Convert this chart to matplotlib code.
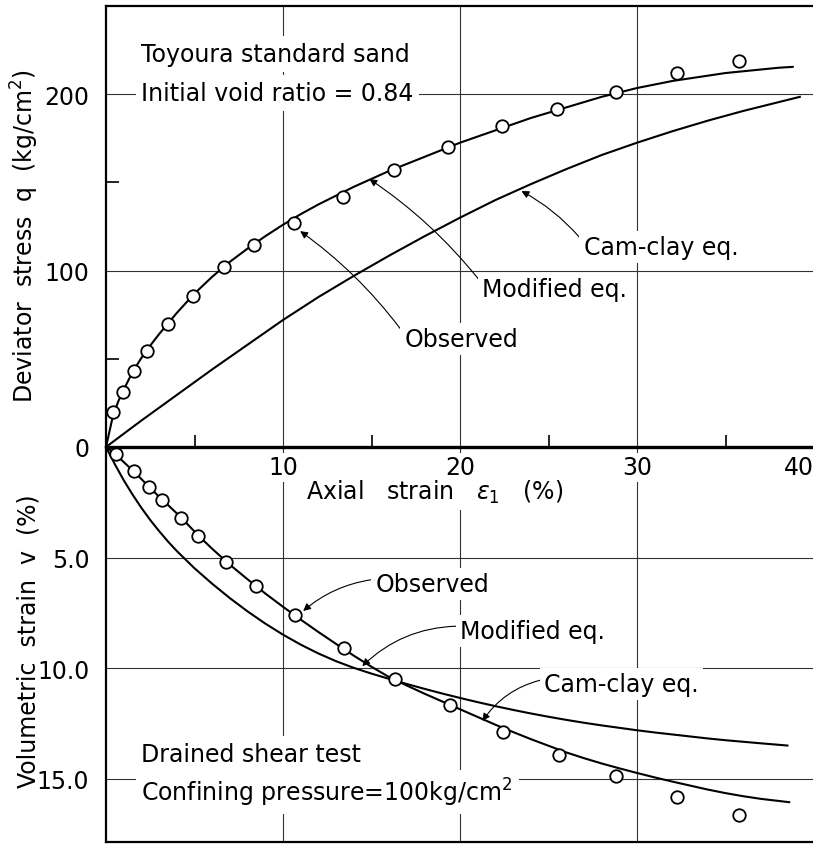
import matplotlib
matplotlib.use('Agg')
from matplotlib import pyplot as plt

plt.rcParams['font.family'] = ['DejaVu Sans']
plt.rcParams['mathtext.fontset'] = 'dejavusans'

# observed points (upper: deviator stress, lower: volumetric strain)
obs_q_eps = [0.40, 0.95, 1.57, 2.30, 3.53, 4.90, 6.66, 8.36, 10.62, 13.40, 16.28, 19.35, 22.37, 25.50, 28.82, 32.25, 35.76]
obs_q = [20.0, 31.4, 43.3, 54.3, 69.8, 85.8, 101.9, 114.6, 127.0, 142.0, 157.1, 170.0, 181.9, 191.7, 201.2, 212.1, 218.8]
obs_v_eps = [0.57, 1.60, 2.45, 3.19, 4.24, 5.22, 6.79, 8.48, 10.69, 13.42, 16.33, 19.44, 22.43, 25.60, 28.82, 32.25, 35.76]
obs_v = [0.32, 1.10, 1.82, 2.39, 3.21, 4.01, 5.18, 6.30, 7.58, 9.10, 10.48, 11.64, 12.89, 13.90, 14.88, 15.83, 16.61]

# modified eq., q
mod_q_eps = [0, 0.2, 0.4, 0.7, 1, 1.5, 2, 2.5, 3, 4, 5, 6, 7, 8, 9, 10, 11, 12, 13, 14, 15, 16, 17, 18, 19,
             20, 21, 22, 23, 24, 25, 26, 27, 28, 29, 30, 31, 32, 33, 34, 35, 36, 37, 38, 38.8]
mod_q = [0, 9, 18, 26, 32.5, 42.5, 50.5, 57.5, 64, 76, 87, 96.5, 105, 112.5, 119.5, 126, 132, 137.5, 142.5,
         147.5, 152, 156.5, 160.5, 164.5, 168.5, 172.5, 176, 179.5, 183, 186.5, 189.5, 192.5, 195.5, 198.5,
         201, 203.5, 205.5, 207.5, 209, 210.5, 212, 213, 214, 215, 215.5]

# cam-clay eq., q
cam_q_eps = [0, 2, 4, 6, 8, 10, 12, 14, 16, 18, 20, 22, 24, 26, 28, 30, 32, 34, 36, 38, 39.2]
cam_q = [0, 15, 29.5, 44, 58, 72, 85, 97, 108.5, 119.5, 130, 140, 149, 157.5, 165.5, 172.5, 179, 185, 190.5,
         195.5, 198.5]

# modified eq., v
mod_v_eps = [0, 0.5, 1, 1.5, 2, 2.5, 3, 3.5, 4, 4.5, 5, 5.5, 6, 7, 8, 9, 10, 11, 12, 13, 14, 15, 16, 17, 18,
             19, 20, 21, 22, 23, 24, 25, 26, 27, 28, 29, 30, 31, 32, 33, 34, 35, 36, 37, 38.6]
mod_v = [0, 0.3, 0.68, 1.05, 1.45, 1.85, 2.25, 2.62, 3.0, 3.4, 3.82, 4.22, 4.6, 5.32, 5.98, 6.62, 7.22, 7.8,
         8.36, 8.9, 9.43, 9.93, 10.4, 10.78, 11.15, 11.5, 11.85, 12.2, 12.55, 12.88, 13.2, 13.5, 13.8, 14.06,
         14.3, 14.52, 14.73, 14.93, 15.12, 15.3, 15.48, 15.64, 15.78, 15.9, 16.05]

# cam-clay eq., v
cam_v_eps = [0, 0.5, 1, 1.5, 2, 2.5, 3, 3.5, 4, 5, 6, 7, 8, 9, 10, 11, 12, 13, 14, 15, 16, 17, 18, 19, 20,
             21, 22, 23, 24, 25, 26, 27, 28, 29, 30, 31, 32, 33, 34, 35, 36, 37, 38.5]
cam_v = [0, 0.78, 1.5, 2.15, 2.75, 3.3, 3.8, 4.27, 4.7, 5.48, 6.18, 6.83, 7.43, 7.98, 8.48, 8.93, 9.33, 9.68,
         9.98, 10.24, 10.48, 10.71, 10.93, 11.14, 11.34, 11.53, 11.71, 11.88, 12.04, 12.19, 12.33, 12.46, 12.58,
         12.69, 12.8, 12.9, 12.99, 13.08, 13.17, 13.25, 13.32, 13.39, 13.49]

q_ticks = [0, 100, 200]
v_ticks = [5, 10, 15]
v_labels = ['5.0', '10.0', '15.0']
x_ticks = [10, 20, 30, 40]

FS = 17
W, H = 813, 845
fig = plt.figure(figsize=(W / 100, H / 100), dpi=100)
ax1 = fig.add_axes([106 / W, 1 - 448 / H, 708 / W, 441 / H])
ax2 = fig.add_axes([106 / W, 1 - 843 / H, 708 / W, 395 / H])
ax1.set_zorder(2)
ax2.patch.set_visible(False)

line_kw = dict(color='k', lw=1.5, zorder=2)
mark_kw = dict(ls='none', marker='o', ms=9, mfc='white', mec='k', mew=1.3, zorder=4, clip_on=False)

ax1.plot(mod_q_eps, mod_q, **line_kw)
ax1.plot(cam_q_eps, cam_q, **line_kw)
ax1.plot(obs_q_eps, obs_q, **mark_kw)
ax2.plot(mod_v_eps, mod_v, **line_kw)
ax2.plot(cam_v_eps, cam_v, **line_kw)
ax2.plot(obs_v_eps, obs_v, **mark_kw)

ax1.set_xlim(0, 40)
ax2.set_xlim(0, 40)
ax1.set_ylim(0, 250)
ax2.set_ylim((843 - 448) / 22.13, 0)

for ax in (ax1, ax2):
    ax.grid(True, which='major', color='0.2', lw=0.8)
    for s in ax.spines.values():
        s.set_linewidth(1.6)
ax2.spines['top'].set_visible(False)
ax1.spines['bottom'].set_linewidth(2.4)

ax1.set_xticks(x_ticks)
ax1.set_xticks([5, 15, 25, 35], minor=True)
ax1.set_yticks(q_ticks)
ax1.set_yticks([50, 150], minor=True)
ax1.tick_params(axis='both', which='major', direction='in', length=0, labelsize=FS)
ax1.tick_params(axis='x', which='major', pad=6)
ax1.tick_params(axis='y', which='major', pad=12)
ax1.tick_params(which='minor', direction='in', length=9, width=1.2)
for lbl in ax1.get_xticklabels():
    lbl.set_bbox(dict(fc='white', ec='none', pad=2))
ax1.get_xticklabels()[-1].set_horizontalalignment('right')

ax2.set_xticks(x_ticks[:-1])
ax2.set_xticklabels([])
ax2.set_yticks(v_ticks)
ax2.set_yticklabels(v_labels)
ax2.tick_params(axis='both', direction='in', length=0, labelsize=FS)
ax2.tick_params(axis='y', pad=12)

ax1.set_ylabel('Deviator  stress  q  (kg/cm$^2$)', fontsize=FS)
ax1.yaxis.set_label_coords(-0.092, 0.48)
ax2.set_ylabel('Volumetric  strain  v  (%)', fontsize=FS)
ax2.yaxis.set_label_coords(-0.092, 0.51)

box = dict(fc='white', ec='none', pad=4)
ax1.text(2.0, 222.8, 'Toyoura standard sand', fontsize=FS, va='center', bbox=box)
ax1.text(2.0, 200.7, 'Initial void ratio = 0.84', fontsize=FS, va='center', bbox=box)
ax2.text(2.0, 13.87, 'Drained shear test', fontsize=FS, va='center', bbox=box)
ax2.text(2.0, 15.59, 'Confining pressure=100kg/cm$^2$', fontsize=FS, va='center', bbox=box)
ax2.text(18.55, 1.99, 'Axial   strain   $\\varepsilon_1$   (%)', fontsize=FS, ha='center', va='center', bbox=box)


def note(ax, label, tip, pos, rad):
    ax.annotate(label, xy=tip, xytext=pos, fontsize=FS, ha='left', va='center', zorder=5,
                bbox=dict(fc='white', ec='none', pad=3),
                arrowprops=dict(arrowstyle='-|>', color='k', lw=0.8, mutation_scale=11,
                                shrinkA=0, shrinkB=0, relpos=(0, 0.7),
                                connectionstyle='arc3,rad=%s' % rad))


note(ax1, 'Cam-clay eq.', (23.47, 145.1), (26.98, 113.4), 0.1)
note(ax1, 'Modified eq.', (14.88, 151.9), (21.27, 89.6), 0.08)
note(ax1, 'Observed', (10.97, 122.4), (16.86, 61.2), 0.08)
note(ax2, 'Observed', (11.14, 7.41), (15.21, 6.19), 0.15)
note(ax2, 'Modified eq.', (14.48, 9.90), (20.02, 8.31), 0.2)
note(ax2, 'Cam-clay eq.', (21.27, 12.38), (24.77, 10.71), 0.2)

fig.savefig('out.png', dpi=100, facecolor='white')
